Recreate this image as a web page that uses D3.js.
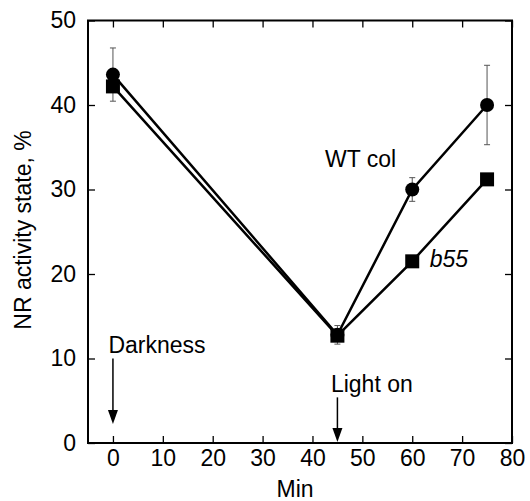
<!DOCTYPE html>
<html>
<head>
<meta charset="utf-8">
<script src="https://cdn.jsdelivr.net/npm/d3@7"></script>
<style>
  body { margin: 0; background: #fff; }
  text { font-family: "Liberation Sans", Arial, sans-serif; }
</style>
</head>
<body>
<div id="wrapper"></div>
<script>
(function () {
  "use strict";

  // DATA
  const minutes = [0, 45, 60, 75]
  const wtCol = [43.6, 12.8, 30.0, 40.0]
  const wtErr = [3.15, 1.1, 1.4, 4.7]
  const b55 = [42.2, 12.7, 21.5, 31.2]
  const xTicks = [0, 10, 20, 30, 40, 50, 60, 70, 80]
  const yTicks = [0, 10, 20, 30, 40, 50]

  const wtData = minutes.map((m, i) => ({ x: m, y: wtCol[i], e: wtErr[i] }))
  const b55Data = minutes.map((m, i) => ({ x: m, y: b55[i] }))

  // DIMENSIONS
  let dimensions = {
    width: 530,
    height: 501,
    margin: { top: 20.5, right: 18, bottom: 58, left: 88 }
  }
  dimensions.boundedWidth = dimensions.width - dimensions.margin.left - dimensions.margin.right
  dimensions.boundedHeight = dimensions.height - dimensions.margin.top - dimensions.margin.bottom

  const wrapper = d3.select("#wrapper").append("svg")
    .attr("width", dimensions.width)
    .attr("height", dimensions.height)

  const bounds = wrapper.append("g")
    .attr("transform", `translate(${dimensions.margin.left},${dimensions.margin.top})`)

  // SCALES
  const xScale = d3.scaleLinear().domain([-5, 80]).range([0, dimensions.boundedWidth])
  const yScale = d3.scaleLinear().domain([0, 50]).range([dimensions.boundedHeight, 0])

  const fontSize = "23px"

  // AXES (ticks point inward)
  const xAxis = bounds.append("g")
    .attr("transform", `translate(0,${dimensions.boundedHeight})`)
    .call(d3.axisBottom(xScale).tickValues(xTicks).tickSizeInner(-7).tickSizeOuter(0).tickPadding(7))
  const yAxis = bounds.append("g")
    .call(d3.axisLeft(yScale).tickValues(yTicks).tickSizeInner(-7).tickSizeOuter(0).tickPadding(12))
  const xTop = bounds.append("g")
    .call(d3.axisTop(xScale).tickValues(xTicks).tickSizeInner(-7).tickSizeOuter(0).tickFormat(""))
  const yRight = bounds.append("g")
    .attr("transform", `translate(${dimensions.boundedWidth},0)`)
    .call(d3.axisRight(yScale).tickValues(yTicks).tickSizeInner(-7).tickSizeOuter(0).tickFormat(""))

  ;[xAxis, yAxis, xTop, yRight].forEach(a => {
    a.select(".domain").remove()
    a.selectAll("line").attr("stroke", "#000").attr("stroke-width", 1.3)
    a.selectAll("text").attr("fill", "#000").style("font-size", fontSize)
      .style("font-family", '"Liberation Sans", Arial, sans-serif')
  })
  xAxis.selectAll("text").attr("dy", "0.71em")

  bounds.append("rect")
    .attr("width", dimensions.boundedWidth)
    .attr("height", dimensions.boundedHeight)
    .attr("fill", "none")
    .attr("stroke", "#000")
    .attr("stroke-width", 2)

  // LABELS
  wrapper.append("text")
    .attr("x", 295)
    .attr("y", 497)
    .attr("text-anchor", "middle")
    .style("font-size", fontSize)
    .text("Min")

  wrapper.append("text")
    .attr("transform", `translate(31,230) rotate(-90)`)
    .attr("text-anchor", "middle")
    .style("font-size", fontSize)
    .text("NR activity state, %")

  // LINES
  const line = d3.line().x(d => xScale(d.x)).y(d => yScale(d.y))

  bounds.append("path").datum(wtData)
    .attr("d", line).attr("fill", "none").attr("stroke", "#000").attr("stroke-width", 2.5)
  bounds.append("path").datum(b55Data)
    .attr("d", line).attr("fill", "none").attr("stroke", "#000").attr("stroke-width", 2.5)

  // ERROR BARS
  const err = bounds.append("g").attr("stroke", "#555").attr("stroke-width", 1)
  err.selectAll(".bar").data(wtData).enter().append("line")
    .attr("x1", d => xScale(d.x)).attr("x2", d => xScale(d.x))
    .attr("y1", d => yScale(d.y + d.e)).attr("y2", d => yScale(d.y - d.e))
  err.selectAll(".capTop").data(wtData).enter().append("line")
    .attr("x1", d => xScale(d.x) - 3).attr("x2", d => xScale(d.x) + 3)
    .attr("y1", d => yScale(d.y + d.e)).attr("y2", d => yScale(d.y + d.e))
  err.selectAll(".capBot").data(wtData).enter().append("line")
    .attr("x1", d => xScale(d.x) - 3).attr("x2", d => xScale(d.x) + 3)
    .attr("y1", d => yScale(d.y - d.e)).attr("y2", d => yScale(d.y - d.e))

  // MARKERS
  bounds.selectAll(".wt").data(wtData).enter().append("circle")
    .attr("cx", d => xScale(d.x))
    .attr("cy", d => yScale(d.y))
    .attr("r", 7)
    .attr("fill", "#000")

  const sq = 14
  bounds.selectAll(".b55").data(b55Data).enter().append("rect")
    .attr("x", d => xScale(d.x) - sq / 2)
    .attr("y", d => yScale(d.y) - sq / 2)
    .attr("width", sq)
    .attr("height", sq)
    .attr("fill", "#000")

  // ANNOTATIONS
  bounds.append("text")
    .attr("x", xScale(42.5)).attr("y", yScale(32.7))
    .style("font-size", fontSize).text("WT col")
  bounds.append("text")
    .attr("x", xScale(63.5)).attr("y", yScale(20.8))
    .style("font-size", fontSize).style("font-style", "italic").text("b55")
  bounds.append("text")
    .attr("x", xScale(-0.9)).attr("y", yScale(10.65))
    .style("font-size", fontSize).text("Darkness")
  bounds.append("text")
    .attr("x", xScale(43.7)).attr("y", yScale(6.0))
    .style("font-size", fontSize).text("Light on")

  function arrow(xv, yTop, yTip) {
    const x = xScale(xv), y0 = yScale(yTop), y1 = yScale(yTip)
    bounds.append("line")
      .attr("x1", x).attr("x2", x).attr("y1", y0).attr("y2", y1 - 10)
      .attr("stroke", "#000").attr("stroke-width", 1.5)
    bounds.append("path")
      .attr("d", `M${x - 5},${y1 - 14}L${x + 5},${y1 - 14}L${x},${y1}Z`)
      .attr("fill", "#000")
  }
  arrow(0, 10.0, 2.25)
  arrow(45, 5.4, 0.12)
})();
</script>
</body>
</html>
